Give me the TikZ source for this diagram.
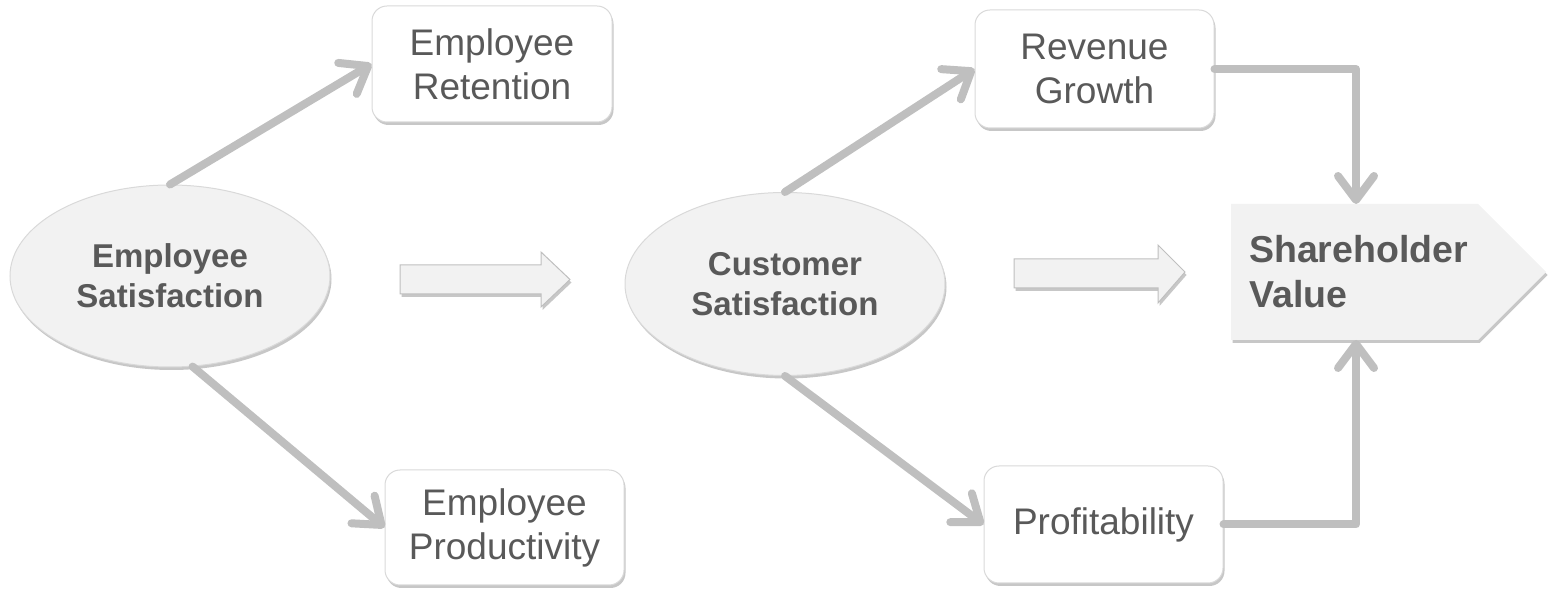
\documentclass[tikz,border=0pt]{standalone}
\usepackage{fontspec}
\setmainfont{Liberation Sans}
\usetikzlibrary{shapes.geometric,arrows.meta,shadows}
\definecolor{txt}{HTML}{595959}
\definecolor{conncol}{HTML}{BFBFBF}
\definecolor{fillgray}{HTML}{F2F2F2}
\definecolor{edgegray}{HTML}{D9D9D9}
\tikzset{
  shad/.style={drop shadow={shadow xshift=1.5pt,shadow yshift=-3pt,fill=black,opacity=0.22}},
  oval/.style={ellipse,draw=edgegray,line width=1pt,fill=fillgray,shad,inner sep=0pt,
    text=txt,align=center,font=\fontsize{33}{40}\selectfont\bfseries},
  rbox/.style={rectangle,rounded corners=15pt,draw=edgegray,line width=1pt,fill=white,shad,
    inner sep=0pt,text=txt,align=center,font=\fontsize{37}{44}\selectfont},
  svshape/.style={fill=fillgray,draw=none,shad},
  blockarr/.style={fill=fillgray,draw=conncol,line width=1pt,shad},
  conn/.style={draw=conncol,line width=8pt,line cap=round,line join=round,
    -{Straight Barb[length=24pt,width=36pt,round]}},
}
\begin{document}
\begin{tikzpicture}[x=1pt,y=1pt]
\useasboundingbox (0,0) rectangle (1556,605);
% nodes
\node[oval,minimum width=320pt,minimum height=182pt] (es) at (170,329) {Employee\\Satisfaction};
\node[oval,minimum width=320pt,minimum height=183pt] (cs) at (785,321) {Customer\\Satisfaction};
\node[rbox,minimum width=240pt,minimum height=116pt] (er) at (492,541) {Employee\\Retention};
\node[rbox,minimum width=239pt,minimum height=115pt] (ep) at (504.5,77.5) {Employee\\Productivity};
\node[rbox,minimum width=239pt,minimum height=118pt] (rg) at (1094.5,536) {Revenue\\Growth};
\node[rbox,minimum width=239pt,minimum height=117pt] (pf) at (1103.5,80.5) {Profitability};
% shareholder value pentagon
\path[svshape] (1231,401) -- (1478,401) -- (1546,333) -- (1478,265) -- (1231,265) -- cycle;
\coordinate (svtop) at (1356,401);
\coordinate (svbot) at (1356,265);
\node[anchor=west,inner sep=0pt,text=txt,align=left,font=\fontsize{37.5}{45}\selectfont\bfseries] (svt) at (1249,333) {Shareholder\\Value};
% block arrows
\draw[blockarr] (400,340) -- (541,340) -- (541,353) -- (570,325.5) -- (541,298) -- (541,311) -- (400,311) -- cycle;
\draw[blockarr] (1014,346) -- (1158,346) -- (1158,360) -- (1185,333) -- (1158,302) -- (1158,317) -- (1014,317) -- cycle;
% connectors
\draw[conn] (es.north) -- (er.west);
\draw[conn] (es.-76) -- (ep.west);
\draw[conn] (cs.north) -- (rg.west);
\draw[conn] (cs.south) -- (pf.west);
\draw[conn] (rg.east) -| (svtop);
\draw[conn] (pf.east) -| (svbot);
\end{tikzpicture}
\end{document}
